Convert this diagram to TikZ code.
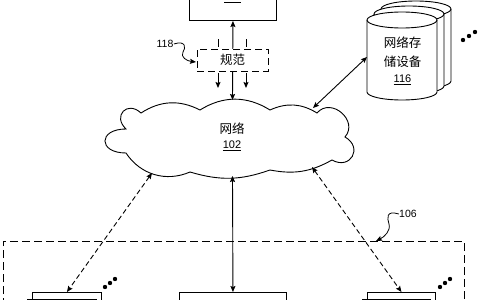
\documentclass[tikz,border=0pt]{standalone}
\usepackage{fontspec}
\setmainfont{Liberation Sans}
\newfontfamily\cjk{Noto Sans CJK SC}
\usetikzlibrary{arrows.meta}
\tikzset{
  x=1pt,y=1pt,
  every path/.style={line width=0.9pt},
  tip/.style={-{Stealth[length=6pt,width=5pt,inset=1pt]}},
  dtip/.style={{Stealth[length=6pt,width=5pt,inset=1pt]}-{Stealth[length=6pt,width=5pt,inset=1pt]}},
  shortdash/.style={dash pattern=on 5pt off 3pt},
  longdash/.style={dash pattern=on 8pt off 4pt},
  boxnode/.style={draw,fill=white,line width=0.9pt,inner sep=0pt},
  lbl/.style={font=\fontsize{10.5}{12}\selectfont,inner sep=0pt},
  cjktext/.style={font=\cjk\fontsize{12.5}{19}\selectfont,align=center,inner sep=0pt},
  dot/.style={fill=black}
}
\begin{document}
\begin{tikzpicture}
\useasboundingbox (0,0) rectangle (480,-300);

% top box
\node[boxnode,minimum width=87pt,minimum height=32pt,anchor=south west] (topbox) at (189,-21) {};
\node[lbl,anchor=base] (toplbl) at (232.5,-0.6) {\underline{112}};

% cloud
\draw[fill=white] (126,-129) to[bend left=90,looseness=2.2] (141,-113)
  to[bend left=30] (200,-110)
  to[bend left=32] (270,-110)
  to[bend left=28] (317,-113)
  to[bend left=90,looseness=1.5] (345,-137)
  to[bend left=90,looseness=2.05] (332,-160)
  to[bend left=20] (270,-170)
  to[bend left=18] (190,-172)
  to[bend left=40] (126,-153)
  to[bend left=90,looseness=3] (126,-129) -- cycle;
\node[cjktext] (net) at (232,-137) {网络\\[-4pt]{\fontspec{Liberation Sans}\fontsize{11}{13}\selectfont\underline{102}}};
\coordinate (nettop) at (232.5,-100);
\coordinate (netbot) at (232.5,-176);
\coordinate (netne) at (313,-108);
\coordinate (netsw) at (152,-173);
\coordinate (netse) at (312,-167);

% vertical link top box - cloud
\draw[dtip] (topbox.south) -- (nettop);

% spec box
\node[boxnode,dash pattern=on 7pt off 4pt,minimum width=71pt,minimum height=22pt,font=\cjk\fontsize{12.5}{14}\selectfont] (spec) at (232.5,-60) {规范\hspace{10pt}};
\coordinate (s1a) at (218,-39); \coordinate (s1b) at (218,-47);
\coordinate (s2a) at (246,-39); \coordinate (s2b) at (246,-47);
\coordinate (s3a) at (218,-73); \coordinate (s3b) at (218,-88);
\coordinate (s4a) at (246,-73); \coordinate (s4b) at (246,-88);
\draw (s1a) -- (s1b);
\draw (s2a) -- (s2b);
\draw[tip] (s3a) -- (s3b);
\draw[tip] (s4a) -- (s4b);

% label 118
\node[lbl] (l118) at (165,-44) {118};
\coordinate (t118) at (196,-62);
\draw[tip,line width=0.8pt] (l118.east) .. controls (186,-40) and (186,-48) .. (183,-52) .. controls (180,-57) and (187,-61) .. (t118);

% storage cylinders
\foreach \dx/\dy in {14/11,7/6,0/0}{
  \begin{scope}[shift={(\dx,\dy)}]
    \fill[white] (367,-20) -- (367,-92) arc[start angle=180,end angle=360,x radius=35,y radius=8] -- (437,-20) arc[start angle=0,end angle=180,x radius=35,y radius=8] -- cycle;
    \draw (367,-20) -- (367,-92) arc[start angle=180,end angle=360,x radius=35,y radius=8] -- (437,-20);
    \draw (402,-20) ellipse[x radius=35,y radius=8];
  \end{scope}
}
\node[cjktext] (storage) at (402.5,-61) {网络存\\储设备\\[-3pt]{\fontspec{Liberation Sans}\fontsize{11}{13}\selectfont\underline{116}}};
\coordinate (stor) at (367,-57);
\draw[dtip] (netne) -- (stor);
\fill[dot] (463,-40) circle (2.2) (469,-36) circle (2.2) (475,-32) circle (2.2);

% group box 106
\draw[longdash] (3,-330) -- (3,-241) -- (464,-241) -- (464,-330);
\node[lbl] (l106) at (408,-214) {106};
\coordinate (t106) at (376,-241);
\draw[tip,line width=0.8pt] (l106.west) .. controls (386,-210) and (387,-218) .. (389,-224) .. controls (391,-231) and (384,-237) .. (t106);

% devices
\node[boxnode,minimum width=69pt,minimum height=24pt,anchor=north west] (dl2) at (32,-292) {};
\node[boxnode,minimum width=69pt,minimum height=24pt,anchor=north west] (dl) at (27,-298.5) {};
\node[boxnode,minimum width=68pt,minimum height=24pt,anchor=north west] (dr2) at (367,-292) {};
\node[boxnode,minimum width=68pt,minimum height=24pt,anchor=north west] (dr) at (362,-298.5) {};
\node[boxnode,minimum width=107pt,minimum height=30pt,anchor=north west] (srv) at (179,-292) {};

\draw[dtip,shortdash] (netsw) -- (dl2.north);
\draw[dtip,shortdash] (netse) -- (dr2.north);
\draw[dtip] (netbot) -- (srv.north);

\fill[dot] (105,-287) circle (2.2) (110,-283) circle (2.2) (115,-279) circle (2.2);
\fill[dot] (440,-287) circle (2.2) (445,-283) circle (2.2) (450,-279) circle (2.2);
\end{tikzpicture}
\end{document}
